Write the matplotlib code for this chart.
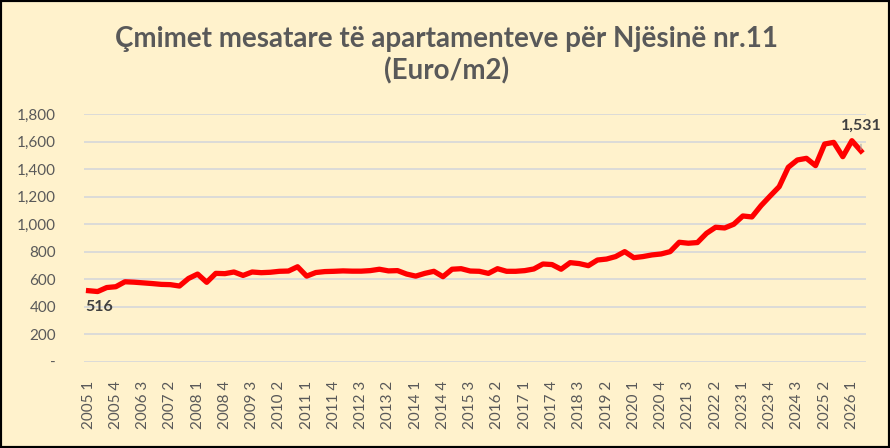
import matplotlib.pyplot as plt
import numpy as np
from matplotlib.patches import Rectangle

# quarterly average prices, 2005 Q1 .. 2026 Q2
years = [y for y in range(2005, 2027) for q in range(4)][:86]
quarters = [q for y in range(2005, 2027) for q in range(1, 5)][:86]
prices = [516, 510, 539, 545, 581, 578, 573, 568, 562, 560,
          550, 605, 637, 577, 642, 640, 652, 627, 652, 647,
          650, 657, 659, 690, 622, 648, 655, 657, 660, 658,
          658, 662, 672, 660, 662, 637, 622, 642, 657, 618,
          672, 676, 659, 657, 642, 676, 657, 657, 662, 674,
          710, 706, 672, 720, 713, 698, 739, 746, 764, 800,
          756, 764, 776, 783, 800, 868, 861, 866, 933, 977,
          972, 999, 1059, 1052, 1134, 1204, 1272, 1413, 1466, 1478,
          1425, 1582, 1594, 1490, 1606, 1531]
labels = [f"{y} {q}" for y, q in zip(years, quarters)]
y_ticks = [0, 200, 400, 600, 800, 1000, 1200, 1400, 1600, 1800]

title = "Çmimet mesatare të apartamenteve për Njësinë nr.11\n(Euro/m2)"

plt.rcParams['font.family'] = ['Lato', 'DejaVu Sans']
bg = '#FFF2CC'
grey = '#595959'

fig = plt.figure(figsize=(8.9, 4.48), dpi=100, facecolor=bg)
ax = fig.add_axes([0.0944, 0.1926, 0.8781, 0.5529], facecolor=bg)

x = np.arange(len(prices))
ax.plot(x, prices, color='#FF0000', lw=3.8, solid_joinstyle='round', zorder=3)

ax.set_xlim(-0.5, len(prices) - 0.5)
ax.set_ylim(0, 1800)
ax.set_yticks(y_ticks)
ax.set_yticklabels(['-' if v == 0 else f"{v:,}" for v in y_ticks])
ax.set_xticks(x[::3])
ax.set_xticklabels(labels[::3], rotation=90)
ax.tick_params(axis='both', length=0, colors=grey)
ax.tick_params(axis='y', pad=20, labelsize=11)
ax.tick_params(axis='x', pad=14, labelsize=11)
ax.grid(axis='y', color='#D9D9D9', lw=1.3)
ax.set_axisbelow(True)
for s in ax.spines.values():
    s.set_visible(False)

# data labels for first and last values
ax.annotate(f"{prices[0]:,}", (x[0], prices[0]), xytext=(8, -12),
            textcoords='offset points', ha='center', va='center',
            fontsize=11.5, fontweight='bold', color='#404040')
ax.annotate(f"{prices[-1]:,}", (x[-1], prices[-1]), xytext=(0, 18),
            textcoords='offset points', ha='center', va='center',
            fontsize=11.5, fontweight='bold', color='#404040',
            arrowprops=dict(arrowstyle='-', color='#A6A6A6', lw=0.8,
                            shrinkA=6, shrinkB=1))

fig.text(0.502, 0.877, title, ha='center', va='center', fontsize=20,
         fontweight='bold', color=grey, linespacing=1.25)

fig.patches.append(Rectangle((0, 0), 1, 1, transform=fig.transFigure,
                             fill=False, edgecolor='black', lw=3))

fig.savefig('out.png', dpi=100, facecolor=bg)
